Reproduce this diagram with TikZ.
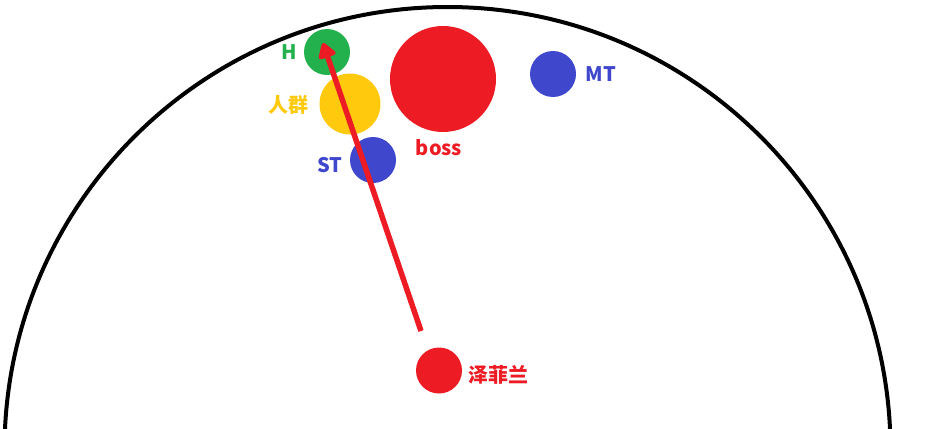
\documentclass[tikz,border=0pt]{standalone}
\usepackage{fontspec}
\setmainfont{Noto Sans CJK SC}
\usetikzlibrary{arrows.meta}
\definecolor{pred}{HTML}{ED1C24}
\definecolor{pgreen}{HTML}{22B14C}
\definecolor{pyellow}{HTML}{FFC90E}
\definecolor{pblue}{HTML}{3F48CC}
\tikzset{
  dot/.style={circle,inner sep=0pt,minimum size=#1},
  lbl/.style={font=\bfseries\fontsize{20}{20}\selectfont,inner sep=0pt},
  cjklbl/.style={font=\bfseries\fontsize{20}{20}\selectfont,inner sep=0pt}
}
\begin{document}
\begin{tikzpicture}[x=1pt,y=-1pt]
\useasboundingbox (0,0) rectangle (952,428);
\begin{scope}
\clip (0,0) rectangle (952,428);
\draw[line width=4pt] (447.5,450) circle[radius=443];
\end{scope}
\node[dot=46pt,fill=pgreen] (h) at (327,52) {};
\node[dot=61pt,fill=pyellow] (crowd) at (350,104) {};
\node[dot=46pt,fill=pblue] (st) at (373,160) {};
\node[dot=106pt,fill=pred] (boss) at (443,79) {};
\node[dot=46pt,fill=pblue] (mt) at (553,74) {};
\node[dot=46pt,fill=pred] (zef) at (439,370.5) {};
\node[lbl,text=pgreen] (hl) at (289,52) {H};
\node[cjklbl,text=pyellow] (crowdl) at (288.5,105) {人群};
\node[lbl,text=pblue] (stl) at (330,165) {ST};
\node[lbl,text=pred] (bossl) at (439,148) {boss};
\node[lbl,text=pblue] (mtl) at (601,74) {MT};
\node[cjklbl,text=pred] (zefl) at (498,375) {泽菲兰};
\coordinate (s) at (421,331);
\coordinate (t) at (323,43);
\draw[pred,line width=5.5pt,-{Triangle[length=17pt,width=20pt,round]}] (s) -- (t);
\end{tikzpicture}
\end{document}
